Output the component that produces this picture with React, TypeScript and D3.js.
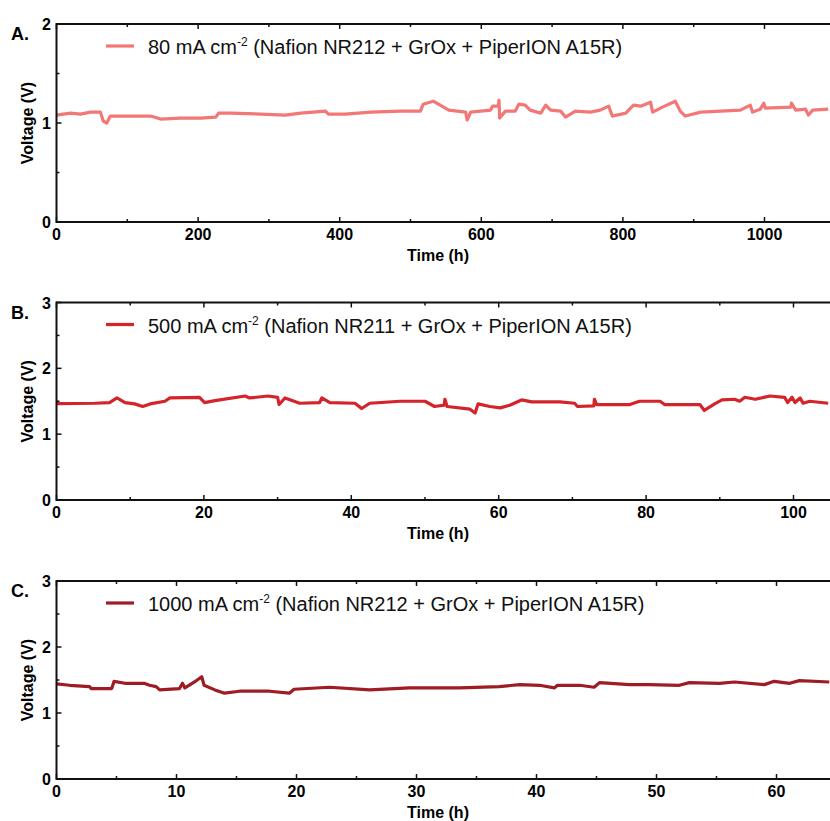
import React from 'react';
import * as d3 from 'd3';

// time (h), voltage (V)
const seriesA: [number, number][] = [
  [0, 1.08], [20, 1.1], [34, 1.09], [48, 1.11], [62, 1.11], [66, 1.02], [71, 1.0], [76, 1.07],
  [105, 1.07], [133, 1.07], [147, 1.04], [175, 1.05], [203, 1.05], [225, 1.06], [229, 1.1],
  [246, 1.1], [288, 1.09], [323, 1.08], [345, 1.1], [380, 1.12], [384, 1.09], [408, 1.09],
  [444, 1.11], [486, 1.12], [514, 1.12], [518, 1.19], [532, 1.22], [542, 1.18], [554, 1.13],
  [578, 1.11], [580, 1.03], [585, 1.11], [613, 1.13], [616, 1.17], [624, 1.17], [625, 1.23],
  [626, 1.05], [634, 1.12], [648, 1.12], [653, 1.19], [662, 1.18], [669, 1.13], [684, 1.1],
  [691, 1.18], [698, 1.13], [712, 1.12], [719, 1.06], [733, 1.12], [754, 1.11], [768, 1.13],
  [780, 1.17], [785, 1.07], [804, 1.1], [815, 1.18], [825, 1.17], [839, 1.21], [842, 1.11],
  [853, 1.15], [874, 1.22], [881, 1.12], [888, 1.07], [910, 1.11], [938, 1.12], [966, 1.13],
  [980, 1.18], [983, 1.11], [994, 1.14], [999, 1.2], [1001, 1.15], [1037, 1.16], [1038, 1.2],
  [1044, 1.13], [1058, 1.14], [1062, 1.08], [1068, 1.13], [1090, 1.14],
];

const seriesB: [number, number][] = [
  [0, 1.465], [5.2, 1.47], [7.2, 1.48], [8.2, 1.55], [9.3, 1.48], [10.6, 1.46], [11.7, 1.42],
  [12.7, 1.46], [14.7, 1.5], [15.4, 1.55], [19.4, 1.56], [20.1, 1.48], [21.5, 1.51], [25.6, 1.58],
  [26.2, 1.55], [28.7, 1.58], [30.0, 1.56], [30.2, 1.45], [31.0, 1.55], [33.0, 1.47], [35.7, 1.48],
  [36.0, 1.55], [37.1, 1.48], [40.5, 1.47], [41.4, 1.39], [42.5, 1.47], [46.6, 1.5], [50.0, 1.5],
  [51.3, 1.42], [52.6, 1.44], [52.7, 1.53], [53.0, 1.42], [56.1, 1.38], [56.8, 1.32], [57.2, 1.46],
  [58.8, 1.42], [60.2, 1.4], [61.5, 1.44], [63.1, 1.52], [64.5, 1.49], [68.3, 1.49], [70.3, 1.47],
  [70.7, 1.42], [72.9, 1.43], [73.0, 1.53], [73.3, 1.45], [77.8, 1.45], [79.1, 1.5], [81.9, 1.5],
  [82.5, 1.45], [87.3, 1.45], [87.9, 1.36], [89.3, 1.46], [90.3, 1.52], [92.0, 1.53], [92.7, 1.5],
  [93.4, 1.56], [94.8, 1.53], [96.8, 1.58], [98.8, 1.56], [99.2, 1.48], [99.8, 1.56], [100.2, 1.48],
  [100.9, 1.55], [101.3, 1.47], [102.2, 1.5], [104.7, 1.47],
];

const seriesC: [number, number][] = [
  [0, 1.44], [1.1, 1.42], [2.75, 1.4], [2.9, 1.37], [4.6, 1.37], [4.8, 1.48], [5.7, 1.45],
  [7.3, 1.45], [7.75, 1.42], [8.3, 1.4], [8.6, 1.35], [10.25, 1.37], [10.5, 1.45], [10.7, 1.38],
  [11.5, 1.47], [12.1, 1.55], [12.3, 1.42], [13.2, 1.35], [14.0, 1.3], [15.25, 1.33], [17.75, 1.33],
  [19.4, 1.3], [19.8, 1.36], [22.75, 1.39], [26.1, 1.35], [29.4, 1.38], [33.6, 1.38], [36.9, 1.4],
  [38.6, 1.43], [40.25, 1.42], [41.5, 1.38], [41.75, 1.42], [43.6, 1.42], [44.8, 1.39], [45.25, 1.46],
  [47.75, 1.43], [49.4, 1.43], [51.9, 1.42], [52.75, 1.46], [55.25, 1.45], [56.5, 1.47], [59, 1.43],
  [59.8, 1.48], [61.1, 1.45], [61.9, 1.49], [64.4, 1.47],
];

const labelsA = ['80 mA cm', ' (Nafion NR212 + GrOx + PiperION A15R)'];
const labelsB = ['500 mA cm', ' (Nafion NR211 + GrOx + PiperION A15R)'];
const labelsC = ['1000 mA cm', ' (Nafion NR212 + GrOx + PiperION A15R)'];

const xTicksA = [0, 200, 400, 600, 800, 1000];
const xTicksB = [0, 20, 40, 60, 80, 100];
const xTicksC = [0, 10, 20, 30, 40, 50, 60];

const FONT = '"Liberation Sans", Arial, Helvetica, sans-serif';

type PanelProps = {
  letter: string;
  data: [number, number][];
  color: string;
  label: string[];
  xMax: number;
  xTicks: number[];
  xMinor: number;
  yMax: number;
  top: number;
  bottom: number;
  pxPerUnit: number;
};

const Panel = ({ letter, data, color, label, xMax, xTicks, xMinor, yMax, top, bottom, pxPerUnit }: PanelProps) => {
  const left = 56.5;
  const x = d3.scaleLinear().domain([0, xMax]).range([left, left + xMax * pxPerUnit]);
  const y = d3.scaleLinear().domain([0, yMax]).range([bottom, top]);
  const line = d3.line<[number, number]>().x(d => x(d[0])).y(d => y(d[1]));

  const minorX = d3.range(0, xMax + 0.001, xMinor).filter(v => !xTicks.includes(v));
  const yTicks = d3.range(0, yMax + 0.001, 1);
  const minorY = d3.range(0.5, yMax, 1);
  const right = x(xMax);

  return (
    <g>
      <text x={11} y={top + 16} fontSize={18} fontWeight="bold" fontFamily={FONT}>{letter}</text>
      <path d={line(data) || ''} fill="none" stroke={color} strokeWidth={3.2} strokeLinejoin="round" />
      {/* frame */}
      <line x1={left} x2={right} y1={bottom} y2={bottom} stroke="#111" strokeWidth={2} />
      <line x1={left} x2={right} y1={top} y2={top} stroke="#111" strokeWidth={2} />
      <line x1={left} x2={left} y1={top - 1} y2={bottom + 1} stroke="#111" strokeWidth={2} />
      {xTicks.map(t => (
        <g key={'x' + t}>
          <line x1={x(t)} x2={x(t)} y1={bottom} y2={bottom - 5} stroke="#111" strokeWidth={1.5} />
          <line x1={x(t)} x2={x(t)} y1={top} y2={top + 5} stroke="#111" strokeWidth={1.5} />
          <text x={x(t)} y={bottom + 18} textAnchor="middle" fontSize={16} fontWeight="bold" fontFamily={FONT}>{t}</text>
        </g>
      ))}
      {minorX.map(t => (
        <g key={'mx' + t}>
          <line x1={x(t)} x2={x(t)} y1={bottom} y2={bottom - 3} stroke="#111" strokeWidth={1.5} />
          <line x1={x(t)} x2={x(t)} y1={top} y2={top + 3} stroke="#111" strokeWidth={1.5} />
        </g>
      ))}
      {yTicks.map(t => (
        <g key={'y' + t}>
          <line x1={left} x2={left + 5} y1={y(t)} y2={y(t)} stroke="#111" strokeWidth={1.5} />
          <text x={51} y={y(t) + 6} textAnchor="end" fontSize={16} fontWeight="bold" fontFamily={FONT}>{t}</text>
        </g>
      ))}
      {minorY.map(t => (
        <line key={'my' + t} x1={left} x2={left + 3} y1={y(t)} y2={y(t)} stroke="#111" strokeWidth={1.5} />
      ))}
      <text x={438} y={bottom + 39} textAnchor="middle" fontSize={16} fontWeight="bold" fontFamily={FONT}>Time (h)</text>
      <text transform={`translate(33,${(top + bottom) / 2}) rotate(-90)`} textAnchor="middle" fontSize={16} fontWeight="bold" fontFamily={FONT}>Voltage (V)</text>
      {/* legend */}
      <line x1={106} x2={134} y1={top + 22} y2={top + 22} stroke={color} strokeWidth={3.2} />
      <text x={148} y={top + 30} fontSize={20} fontFamily={FONT} fill="#111">
        {label[0]}
        <tspan fontSize={12} dy={-8}>-2</tspan>
        <tspan dy={8}>{label[1]}</tspan>
      </text>
    </g>
  );
};

export default function App() {
  return (
    <svg width={830} height={821} style={{ position: 'absolute', left: 0, top: 0, background: '#fff', overflow: 'hidden' }}>
      <Panel letter="A." data={seriesA} color="#F27777" label={labelsA} xMax={1100} xTicks={xTicksA}
        xMinor={100} yMax={2} top={24} bottom={222} pxPerUnit={0.708} />
      <Panel letter="B." data={seriesB} color="#D4232B" label={labelsB} xMax={106} xTicks={xTicksB}
        xMinor={10} yMax={3} top={302.5} bottom={500} pxPerUnit={7.37} />
      <Panel letter="C." data={seriesC} color="#9E1C24" label={labelsC} xMax={65} xTicks={xTicksC}
        xMinor={5} yMax={3} top={581} bottom={779} pxPerUnit={12} />
    </svg>
  );
}
